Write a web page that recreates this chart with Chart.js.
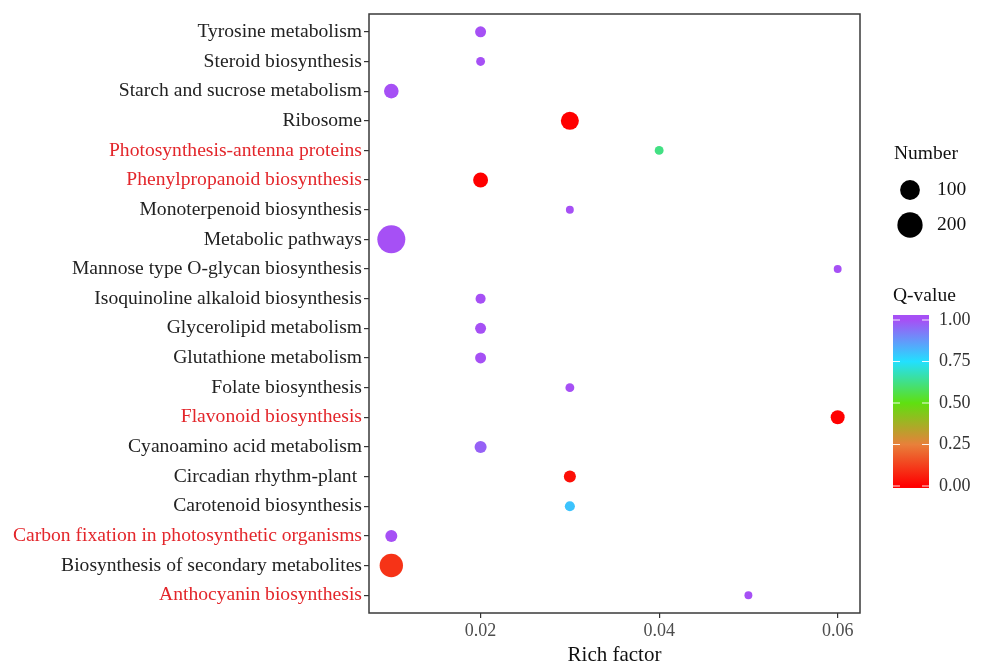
<!DOCTYPE html>
<html lang="en">
<head>
    <meta charset="UTF-8">
    <title>KEGG enrichment bubble chart</title>
    <script src="https://cdn.jsdelivr.net/npm/chart.js"></script>
    <style>
        body { margin: 0; background: #fff; }
        canvas { display: block; }
    </style>
</head>
<body>
<canvas id="bubbleChart" width="984" height="666"></canvas>

<script>
    // pathways, top to bottom as shown on the y axis
    const pathways = [
        'Tyrosine metabolism',
        'Steroid biosynthesis',
        'Starch and sucrose metabolism',
        'Ribosome',
        'Photosynthesis-antenna proteins',
        'Phenylpropanoid biosynthesis',
        'Monoterpenoid biosynthesis',
        'Metabolic pathways',
        'Mannose type O-glycan biosynthesis',
        'Isoquinoline alkaloid biosynthesis',
        'Glycerolipid metabolism',
        'Glutathione metabolism',
        'Folate biosynthesis',
        'Flavonoid biosynthesis',
        'Cyanoamino acid metabolism',
        'Circadian rhythm-plant ',
        'Carotenoid biosynthesis',
        'Carbon fixation in photosynthetic organisms',
        'Biosynthesis of secondary metabolites',
        'Anthocyanin biosynthesis'
    ];
    const richFactor = [0.02, 0.02, 0.01, 0.03, 0.04, 0.02, 0.03, 0.01, 0.06, 0.02,
                        0.02, 0.02, 0.03, 0.06, 0.02, 0.03, 0.03, 0.01, 0.01, 0.05];
    const geneNumber = [11, 3, 37, 75, 3, 40, 1, 263, 1, 7,
                        11, 11, 3, 31, 17, 17, 7, 17, 162, 1];
    const qValue = [1, 1, 1, 0, 0.62, 0, 1, 1, 1, 1,
                    1, 1, 1, 0, 0.97, 0.03, 0.8, 1, 0.1, 1];
    const highlighted = [
        'Photosynthesis-antenna proteins',
        'Phenylpropanoid biosynthesis',
        'Flavonoid biosynthesis',
        'Carbon fixation in photosynthetic organisms',
        'Anthocyanin biosynthesis'
    ];
    const xTicks = [0.02, 0.04, 0.06];
    const sizeBreaks = [100, 200];
    const qBreaks = [0, 0.25, 0.5, 0.75, 1];

    // colour scale (q-value 0 -> 1)
    const qStops = [
        [0, [255, 0, 0]],
        [0.25, [232, 128, 58]],
        [0.5, [95, 224, 16]],
        [0.75, [34, 224, 255]],
        [1, [166, 80, 245]]
    ];

    function qColor(q) {
        for (let i = 1; i < qStops.length; i++) {
            if (q <= qStops[i][0]) {
                const [q0, c0] = qStops[i - 1];
                const [q1, c1] = qStops[i];
                const t = (q - q0) / (q1 - q0);
                const c = c0.map((v, k) => Math.round(v + (c1[k] - v) * t));
                return 'rgb(' + c.join(',') + ')';
            }
        }
        return 'rgb(' + qStops[qStops.length - 1][1].join(',') + ')';
    }

    function sizeOf(n) {
        return 3.3 + 0.66 * Math.sqrt(n);
    }

    const serif = '"Liberation Serif", "Times New Roman", serif';

    const points = pathways.map((p, i) => ({ x: richFactor[i], y: i, r: sizeOf(geneNumber[i]) }));

    const legendPlugin = {
        id: 'sideLegend',
        afterDraw(chart) {
            const ctx = chart.ctx;
            const area = chart.chartArea;
            ctx.save();

            // panel border
            ctx.strokeStyle = '#3a3a3a';
            ctx.lineWidth = 1.5;
            ctx.strokeRect(area.left, area.top, area.right - area.left, area.bottom - area.top);

            // size legend
            ctx.fillStyle = '#111';
            ctx.textBaseline = 'middle';
            ctx.textAlign = 'left';
            ctx.font = '19.5px ' + serif;
            ctx.fillText('Number', 894, 154);
            sizeBreaks.forEach((n, i) => {
                const cy = 190 + i * 35;
                ctx.beginPath();
                ctx.arc(910, cy, sizeOf(n), 0, Math.PI * 2);
                ctx.fillStyle = '#000';
                ctx.fill();
                ctx.fillStyle = '#111';
                ctx.fillText(String(n), 937, cy);
            });

            // colour bar
            ctx.fillText('Q-value', 893, 296);
            const barX = 893, barW = 36, barTop = 315, barBottom = 488;
            const vTop = 320, vBottom = 486;
            const grad = ctx.createLinearGradient(0, vBottom, 0, vTop);
            qStops.forEach(s => grad.addColorStop(s[0], 'rgb(' + s[1].join(',') + ')'));
            ctx.fillStyle = grad;
            ctx.fillRect(barX, barTop, barW, barBottom - barTop);
            ctx.font = '18px ' + serif;
            qBreaks.forEach(q => {
                const y = vBottom - q * (vBottom - vTop);
                ctx.strokeStyle = 'rgba(255,255,255,0.9)';
                ctx.lineWidth = 1;
                ctx.beginPath();
                ctx.moveTo(barX, y); ctx.lineTo(barX + 7, y);
                ctx.moveTo(barX + barW - 7, y); ctx.lineTo(barX + barW, y);
                ctx.stroke();
                ctx.fillStyle = '#333';
                ctx.fillText(q.toFixed(2), 939, y);
            });
            ctx.restore();
        }
    };

    new Chart(document.getElementById('bubbleChart').getContext('2d'), {
        type: 'bubble',
        data: {
            datasets: [{
                data: points,
                backgroundColor: qValue.map(qColor),
                borderWidth: 0,
                hoverBorderWidth: 0
            }]
        },
        options: {
            responsive: false,
            animation: false,
            events: [],
            layout: { padding: { left: 10, top: 13, right: 124, bottom: 0 } },
            plugins: {
                legend: { display: false },
                tooltip: { enabled: false }
            },
            scales: {
                x: {
                    type: 'linear',
                    min: 0.0075,
                    max: 0.0625,
                    afterBuildTicks: axis => { axis.ticks = xTicks.map(v => ({ value: v })); },
                    afterFit: scale => { scale.height = 53; },
                    border: { display: false },
                    grid: { drawOnChartArea: false, drawTicks: true, tickLength: 5, color: '#333', lineWidth: 1.2 },
                    ticks: {
                        padding: 2,
                        color: '#4d4d4d',
                        font: { family: serif, size: 18 },
                        callback: v => v.toFixed(2)
                    },
                    title: {
                        display: true,
                        text: 'Rich factor',
                        color: '#111',
                        padding: 0,
                        font: { family: serif, size: 21, lineHeight: 1.0 }
                    }
                },
                y: {
                    type: 'linear',
                    reverse: true,
                    min: -0.6,
                    max: pathways.length - 0.4,
                    afterBuildTicks: axis => { axis.ticks = pathways.map((p, i) => ({ value: i })); },
                    afterFit: scale => { scale.width = 359; },
                    border: { display: false },
                    grid: { drawOnChartArea: false, drawTicks: true, tickLength: 5, color: '#333', lineWidth: 1.2 },
                    ticks: {
                        autoSkip: false,
                        padding: 2,
                        font: { family: serif, size: 19.6 },
                        color: c => highlighted.includes(pathways[c.tick.value]) ? '#e3262b' : '#222',
                        callback: v => pathways[v]
                    }
                }
            }
        },
        plugins: [legendPlugin]
    });
</script>
</body>
</html>
